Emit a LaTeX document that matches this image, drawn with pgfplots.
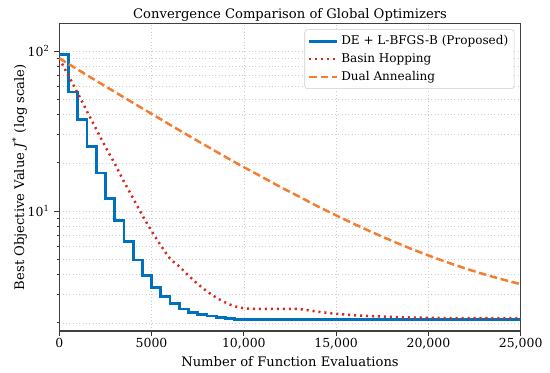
\documentclass[border=0pt]{standalone}
\usepackage{pgfplots}
\pgfplotsset{compat=1.18}
\usepackage{fontspec}
\setmainfont{DejaVu Serif}
\definecolor{deblue}{RGB}{0,114,189}
\definecolor{bhred}{RGB}{218,40,30}
\definecolor{daorange}{RGB}{245,125,50}
\begin{document}
\begin{tikzpicture}
\begin{axis}[
  width=332.2bp, height=221.5bp, scale only axis,
  xmin=0, xmax=25000, ymode=log, ymin=1.78, ymax=149,
  scaled x ticks=false,
  xtick={0,5000,10000,15000,20000,25000},
  xticklabels={0,5000,{10,000},{15,000},{20,000},{25,000}},
  ytick={10,100}, yticklabels={10\textsuperscript{1},10\textsuperscript{2}},
  minor ytick={2,3,4,5,6,7,8,9,20,30,40,50,60,70,80,90},
  grid=both,
  major grid style={dotted, black!20, line width=0.5pt},
  minor grid style={dotted, black!20, line width=0.5pt},
  tick align=outside, tick pos=left,
  major tick length=3.5bp, minor tick length=2bp,
  every tick/.style={black!80, line width=0.6pt},
  axis line style={draw=black!75, line width=0.9pt},
  tick label style={font=\fontsize{9}{11}\selectfont},
  label style={font=\fontsize{9.5}{11}\selectfont},
  title style={font=\fontsize{9.5}{11}\selectfont, yshift=-7.8bp},
  title={Convergence Comparison of Global Optimizers},
  xlabel={Number of Function Evaluations},
  ylabel={Best Objective Value \textit{J}\textsuperscript{*} (log scale)},
  xlabel style={yshift=1.8bp},
  xticklabel style={yshift=1.8bp},
  ylabel style={yshift=-6.3bp},
  legend cell align=left,
  legend style={at={(rel axis cs:1,1)}, anchor=north east, xshift=-4.5bp, yshift=-4.3bp,
    draw=black!20, rounded corners=2pt, fill=white, fill opacity=0.9, text opacity=1,
    font=\fontsize{8.7}{11}\selectfont, row sep=1pt, inner sep=2.3pt},
  legend image code/.code={\draw[#1] (0bp,0bp) -- (20bp,0bp);},
]
\coordinate (ll) at (rel axis cs:0,0);
\coordinate (ur) at (rel axis cs:1,1);
\addplot[const plot, deblue, line width=2bp] coordinates {
(0,95.4) (500,55.4) (1000,37.4) (1500,25.2) (2000,17.3) (2500,12.0) (3000,8.7)
(3500,6.43) (4000,4.94) (4500,3.94) (5000,3.34) (5500,2.91) (6000,2.64) (6500,2.44)
(7000,2.33) (7500,2.26) (8000,2.21) (8500,2.17) (9000,2.12) (9500,2.10) (25000,2.10)
};
\addlegendentry{DE + L-BFGS-B (Proposed)}
\addplot[bhred, line width=1.8bp, dash pattern=on 1.5bp off 2.8bp, smooth] coordinates {
(0,90) (500,70) (1000,54.5) (1500,42) (2000,32.5) (2500,25.2) (3000,19.8) (3500,15.3)
(4000,12.0) (4500,9.4) (5000,7.5) (5500,6.1) (6000,5.05) (6500,4.5) (7000,3.95)
(7500,3.5) (8000,3.15) (8500,2.88) (9000,2.68) (9500,2.54) (10000,2.47) (10500,2.45)
(11000,2.45) (12000,2.45) (13000,2.44) (14000,2.35) (15000,2.28) (16000,2.23)
(17000,2.2) (18000,2.18) (19000,2.16) (20000,2.15) (22000,2.14) (25000,2.14)
};
\addlegendentry{Basin Hopping}
\addplot[daorange, line width=1.8bp, dash pattern=on 5.5bp off 2.6bp, smooth] coordinates {
(0,90.1) (1000,76.6) (2000,65.2) (3000,55.6) (4000,47.4) (5000,40.5) (6000,34.6)
(7000,29.6) (8000,25.4) (9000,21.8) (10000,18.8) (11000,16.3) (12000,14.1)
(13000,12.3) (14000,10.7) (15000,9.39) (16000,8.28) (17000,7.33) (18000,6.53)
(19000,5.85) (20000,5.28) (21000,4.79) (22000,4.38) (23000,4.03) (24000,3.74) (25000,3.49)
};
\addlegendentry{Dual Annealing}
\end{axis}
\path (ll) ++(-42.7bp,-30.2bp);
\path (ur) ++(21.1bp,16.8bp);
\end{tikzpicture}
\end{document}
